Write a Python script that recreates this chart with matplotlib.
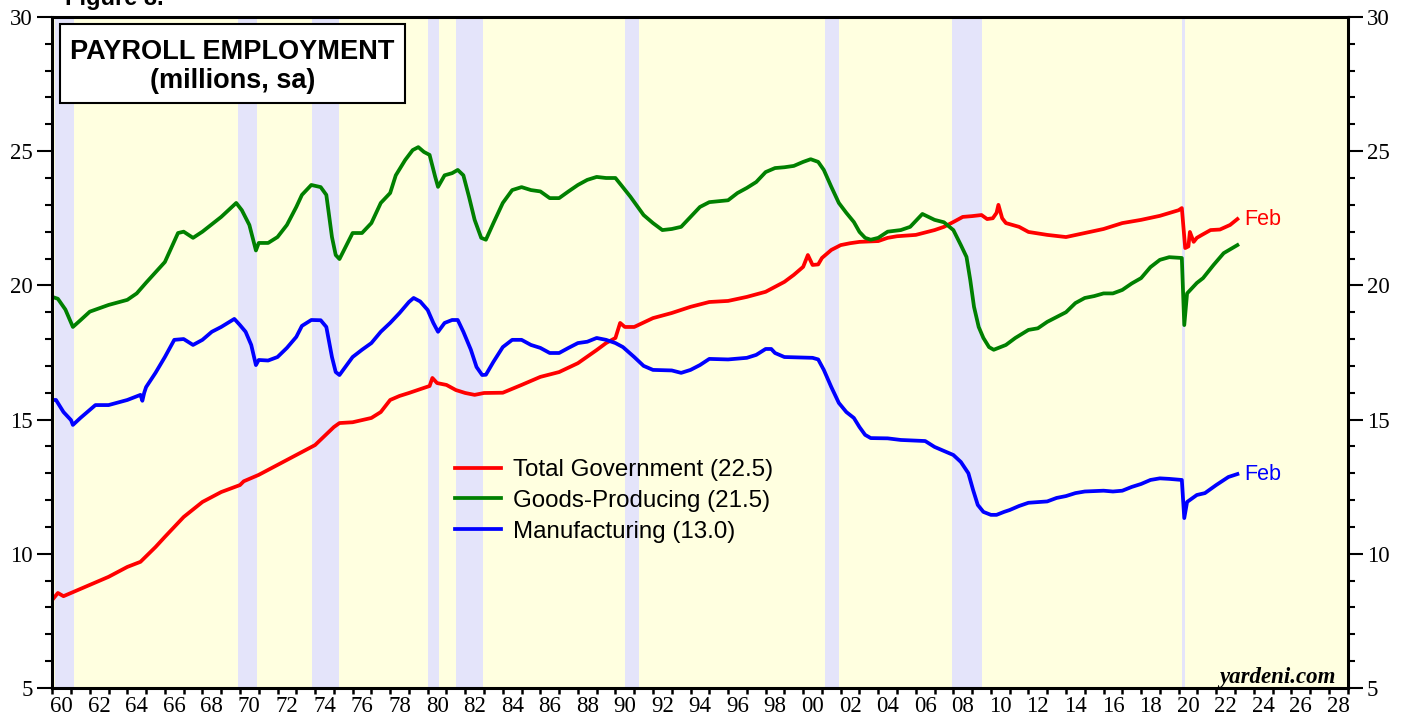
import matplotlib
matplotlib.use("Agg")
import matplotlib.pyplot as plt
from matplotlib.patches import Rectangle
from matplotlib.ticker import MultipleLocator, FixedLocator, FixedFormatter, NullFormatter

# recession periods (shaded)
rec_start = [1960.17, 1969.92, 1973.83, 1980.0, 1981.5, 1990.5, 2001.17, 2007.92, 2020.17]
rec_end = [1961.17, 1970.92, 1975.25, 1980.58, 1982.92, 1991.25, 2001.92, 2009.5, 2020.33]

# Total Government (millions)
gov_t = [1960.0, 1960.3, 1960.6, 1961.0, 1962.0, 1963.0, 1964.0, 1964.7, 1965.5, 1966.0,
         1966.5, 1967.0, 1968.0, 1969.0, 1970.0, 1970.2, 1971.0, 1972.0, 1973.0, 1974.0,
         1975.0, 1975.3, 1976.0, 1977.0, 1977.5, 1978.0, 1978.5, 1979.0, 1979.8, 1980.1,
         1980.25, 1980.5, 1981.0, 1981.5, 1982.0, 1982.5, 1983.0, 1984.0, 1985.0, 1986.0,
         1987.0, 1988.0, 1989.0, 1989.5, 1990.0, 1990.25, 1990.5, 1991.0, 1992.0, 1993.0,
         1994.0, 1995.0, 1996.0, 1997.0, 1998.0, 1999.0, 1999.5, 2000.0, 2000.25, 2000.5,
         2000.8, 2001.0, 2001.5, 2002.0, 2002.5, 2003.0, 2004.0, 2004.5, 2005.0, 2006.0,
         2007.0, 2007.5, 2008.0, 2008.5, 2009.0, 2009.5, 2009.8, 2010.1, 2010.3, 2010.4,
         2010.6, 2010.8, 2011.5, 2012.0, 2013.0, 2014.0, 2015.0, 2016.0, 2017.0, 2018.0,
         2019.0, 2020.0, 2020.17, 2020.35, 2020.52, 2020.6, 2020.8, 2020.97, 2021.24, 2021.7,
         2022.2, 2022.74, 2023.13]
gov_v = [8.28, 8.54, 8.42, 8.54, 8.84, 9.14, 9.51, 9.7, 10.25, 10.63,
         11.0, 11.37, 11.93, 12.3, 12.56, 12.7, 12.94, 13.31, 13.68, 14.05,
         14.72, 14.87, 14.9, 15.06, 15.28, 15.73, 15.88, 15.99, 16.18, 16.25,
         16.55, 16.36, 16.29, 16.1, 15.99, 15.92, 15.99, 16.0, 16.29, 16.59,
         16.77, 17.1, 17.59, 17.85, 18.04, 18.6, 18.45, 18.45, 18.78, 18.97,
         19.2, 19.38, 19.42, 19.57, 19.76, 20.13, 20.39, 20.69, 21.13, 20.76,
         20.78, 21.02, 21.32, 21.5, 21.57, 21.62, 21.65, 21.77, 21.83, 21.88,
         22.06, 22.18, 22.36, 22.55, 22.58, 22.62, 22.47, 22.5, 22.7, 23.0,
         22.5, 22.32, 22.18, 21.99, 21.88, 21.8, 21.95, 22.1, 22.32, 22.44,
         22.59, 22.8, 22.88, 21.39, 21.45, 21.99, 21.62, 21.77, 21.88, 22.06,
         22.08, 22.25, 22.47]

# Goods-Producing (millions)
goods_t = [1960.0, 1960.3, 1960.7, 1961.1, 1961.5, 1962.0, 1963.0, 1964.0, 1964.5, 1965.0,
           1966.0, 1966.7, 1967.0, 1967.5, 1968.0, 1969.0, 1969.8, 1970.1, 1970.5, 1970.85,
           1971.0, 1971.5, 1972.0, 1972.5, 1973.0, 1973.3, 1973.8, 1974.3, 1974.6, 1974.9,
           1975.1, 1975.3, 1976.0, 1976.5, 1977.0, 1977.5, 1978.0, 1978.3, 1978.8, 1979.2,
           1979.5, 1979.8, 1980.1, 1980.4, 1980.55, 1980.9, 1981.3, 1981.6, 1981.9, 1982.2,
           1982.5, 1982.85, 1983.1, 1983.5, 1984.0, 1984.5, 1985.0, 1985.5, 1986.0, 1986.5,
           1987.0, 1987.5, 1988.0, 1988.5, 1989.0, 1989.5, 1990.0, 1990.3, 1990.8, 1991.5,
           1992.0, 1992.5, 1993.0, 1993.5, 1994.0, 1994.5, 1995.0, 1996.0, 1996.5, 1997.0,
           1997.5, 1998.0, 1998.5, 1999.0, 1999.5, 2000.0, 2000.4, 2000.8, 2001.1, 2001.5,
           2001.9, 2002.3, 2002.7, 2003.0, 2003.3, 2003.6, 2004.0, 2004.5, 2005.2, 2005.7,
           2006.35, 2007.0, 2007.5, 2008.0, 2008.4, 2008.7, 2008.9, 2009.1, 2009.35, 2009.6,
           2009.9, 2010.15, 2010.8, 2011.3, 2012.0, 2012.5, 2013.0, 2013.5, 2014.0, 2014.5,
           2015.0, 2015.5, 2016.0, 2016.5, 2017.0, 2017.5, 2018.0, 2018.5, 2019.0, 2019.5,
           2020.17, 2020.3, 2020.45, 2020.97, 2021.3, 2021.86, 2022.4, 2023.13]
goods_v = [19.57, 19.5, 19.1, 18.45, 18.7, 19.02, 19.27, 19.46, 19.7, 20.1,
           20.87, 21.95, 22.0, 21.77, 22.0, 22.55, 23.07, 22.8, 22.25, 21.3,
           21.58, 21.58, 21.8, 22.25, 22.92, 23.37, 23.74, 23.66, 23.37, 21.8,
           21.13, 20.98, 21.95, 21.95, 22.32, 23.07, 23.44, 24.1, 24.67, 25.04,
           25.15, 24.97, 24.86, 24.04, 23.67, 24.1, 24.18, 24.3, 24.1, 23.3,
           22.44, 21.77, 21.7, 22.32, 23.07, 23.55, 23.66, 23.55, 23.5, 23.25,
           23.25, 23.5, 23.74, 23.93, 24.04, 24.0, 24.0, 23.74, 23.3, 22.62,
           22.32, 22.06, 22.1, 22.18, 22.55, 22.92, 23.1, 23.17, 23.44, 23.63,
           23.85, 24.22, 24.37, 24.4, 24.45, 24.6, 24.7, 24.6, 24.3, 23.67,
           23.07, 22.7, 22.36, 21.99, 21.77, 21.7, 21.77, 22.0, 22.06, 22.18,
           22.66, 22.44, 22.35, 22.06, 21.5, 21.06, 20.2, 19.2, 18.45, 18.04,
           17.7, 17.6, 17.78, 18.04, 18.34, 18.4, 18.64, 18.82, 19.0, 19.34,
           19.53, 19.6, 19.7, 19.7, 19.83, 20.07, 20.27, 20.68, 20.95, 21.05,
           21.02, 18.52, 19.7, 20.09, 20.27, 20.76, 21.2, 21.5]

# Manufacturing (millions)
mfg_t = [1960.0, 1960.2, 1960.6, 1961.0, 1961.1, 1961.5, 1962.0, 1962.3, 1963.0, 1964.0,
         1964.7, 1964.8, 1964.9, 1965.0, 1965.5, 1966.0, 1966.5, 1967.0, 1967.5, 1968.0,
         1968.5, 1969.0, 1969.7, 1970.0, 1970.3, 1970.6, 1970.85, 1971.0, 1971.5, 1972.0,
         1972.5, 1973.0, 1973.3, 1973.8, 1974.3, 1974.6, 1974.9, 1975.1, 1975.3, 1976.0,
         1976.5, 1977.0, 1977.5, 1978.0, 1978.5, 1979.0, 1979.25, 1979.6, 1980.0, 1980.3,
         1980.55, 1980.9, 1981.3, 1981.6, 1981.9, 1982.3, 1982.6, 1982.9, 1983.1, 1983.5,
         1984.0, 1984.5, 1985.0, 1985.5, 1986.0, 1986.5, 1987.0, 1987.5, 1988.0, 1988.5,
         1989.0, 1989.5, 1990.0, 1990.4, 1991.0, 1991.5, 1992.0, 1993.0, 1993.5, 1994.0,
         1994.5, 1995.0, 1996.0, 1997.0, 1997.5, 1998.0, 1998.3, 1998.5, 1999.0, 2000.5,
         2000.8, 2001.1, 2001.5, 2001.9, 2002.3, 2002.7, 2003.0, 2003.3, 2003.6, 2004.5,
         2005.2, 2006.5, 2007.0, 2007.5, 2008.0, 2008.4, 2008.8, 2009.05, 2009.3, 2009.6,
         2010.0, 2010.3, 2010.7, 2011.0, 2011.5, 2012.0, 2013.0, 2013.5, 2014.0, 2014.5,
         2015.0, 2016.0, 2016.5, 2017.0, 2017.5, 2018.0, 2018.5, 2019.0, 2019.5, 2020.17,
         2020.3, 2020.45, 2020.97, 2021.4, 2022.0, 2022.65, 2023.13]
mfg_v = [15.73, 15.73, 15.28, 14.98, 14.8, 15.06, 15.36, 15.54, 15.54, 15.73,
         15.92, 15.7, 16.0, 16.21, 16.74, 17.33, 17.97, 18.0, 17.78, 17.97,
         18.27, 18.45, 18.75, 18.52, 18.27, 17.78, 17.03, 17.22, 17.2, 17.33,
         17.67, 18.08, 18.49, 18.71, 18.7, 18.45, 17.33, 16.77, 16.66, 17.33,
         17.6, 17.85, 18.27, 18.6, 18.97, 19.38, 19.53, 19.4, 19.08, 18.6,
         18.27, 18.6, 18.71, 18.71, 18.27, 17.6, 16.96, 16.66, 16.67, 17.15,
         17.7, 17.97, 17.97, 17.78, 17.67, 17.48, 17.48, 17.67, 17.85, 17.9,
         18.04, 17.97, 17.85, 17.7, 17.33, 17.0, 16.85, 16.83, 16.74, 16.85,
         17.03, 17.26, 17.24, 17.3, 17.41, 17.63, 17.63, 17.48, 17.33, 17.3,
         17.24, 16.85, 16.21, 15.62, 15.28, 15.06, 14.72, 14.43, 14.31, 14.3,
         14.24, 14.2, 13.98, 13.83, 13.68, 13.42, 13.0, 12.38, 11.82, 11.56,
         11.45, 11.45, 11.56, 11.63, 11.78, 11.9, 11.95, 12.08, 12.15, 12.26,
         12.32, 12.35, 12.32, 12.35, 12.49, 12.6, 12.75, 12.81, 12.79, 12.75,
         11.33, 11.93, 12.19, 12.26, 12.56, 12.86, 12.97]

# x labels every two years, centred in the year
label_years = list(range(1960, 2029, 2))
label_text = ["%02d" % (y % 100) for y in label_years]

plt.rcParams["font.family"] = "Liberation Serif"
SANS = "Liberation Sans"

fig = plt.figure(figsize=(14.08, 7.21), dpi=100)
ax = fig.add_axes([0.0371, 0.0458, 0.9200, 0.9307])
ax.set_facecolor("#FFFFE0")

for s, e in zip(rec_start, rec_end):
    ax.axvspan(s, e, color="#E4E4FA", lw=0, zorder=0)

ax.plot(gov_t, gov_v, color="#FF0000", lw=2.7, label="Total Government (%.1f)" % gov_v[-1])
ax.plot(goods_t, goods_v, color="#008000", lw=2.7, label="Goods-Producing (%.1f)" % goods_v[-1])
ax.plot(mfg_t, mfg_v, color="#0000FF", lw=2.7, label="Manufacturing (%.1f)" % mfg_v[-1])

ax.set_xlim(1960, 2029)
ax.set_ylim(5, 30)

# x axis: tick each year, labels between ticks
ax.xaxis.set_major_locator(MultipleLocator(1))
ax.xaxis.set_major_formatter(NullFormatter())
ax.xaxis.set_minor_locator(FixedLocator([y + 0.5 for y in label_years]))
ax.xaxis.set_minor_formatter(FixedFormatter(label_text))
ax.tick_params(axis="x", which="major", direction="out", length=4, width=1.8)
ax.tick_params(axis="x", which="minor", length=0, pad=6, labelsize=16.5)

# y axis on both sides
ax.yaxis.set_major_locator(MultipleLocator(5))
ax.yaxis.set_minor_locator(MultipleLocator(1))
ax.tick_params(axis="y", which="both", left=True, right=True, labelleft=True, labelright=True,
               direction="out", width=1.5, labelsize=16.5)
ax.tick_params(axis="y", which="major", length=11, pad=3)
ax.tick_params(axis="y", which="minor", length=5)

for sp in ax.spines.values():
    sp.set_linewidth(2.2)

# title box
ax.add_patch(Rectangle((0.006, 0.872), 0.266, 0.118, transform=ax.transAxes,
                       facecolor="white", edgecolor="black", lw=1.5, zorder=5))
ax.text(0.139, 0.948, "PAYROLL EMPLOYMENT", transform=ax.transAxes, ha="center", va="center",
        fontsize=19.5, fontweight="bold", family=SANS, zorder=6)
ax.text(0.139, 0.905, "(millions, sa)", transform=ax.transAxes, ha="center", va="center",
        fontsize=19.5, fontweight="bold", family=SANS, zorder=6)

fig.text(0.046, 0.993, "Figure 8.", fontsize=17, fontweight="bold", family=SANS, va="baseline")

leg = ax.legend(loc="upper left", bbox_to_anchor=(0.311, 0.341), frameon=False,
                prop={"family": SANS, "size": 17.4}, handlelength=1.9, handletextpad=0.5,
                labelspacing=0.36, borderpad=0, borderaxespad=0)

ax.annotate("Feb", xy=(gov_t[-1], gov_v[-1]), xytext=(5, 0), textcoords="offset points",
            color="#FF0000", va="center", fontsize=15.5, family=SANS)
ax.annotate("Feb", xy=(mfg_t[-1], mfg_v[-1]), xytext=(5, 0), textcoords="offset points",
            color="#0000FF", va="center", fontsize=15.5, family=SANS)

ax.text(0.991, 0.0075, "yardeni.com", transform=ax.transAxes, ha="right", va="baseline",
        fontsize=16.5, fontweight="bold", style="italic")

fig.savefig("out.png", dpi=100)
